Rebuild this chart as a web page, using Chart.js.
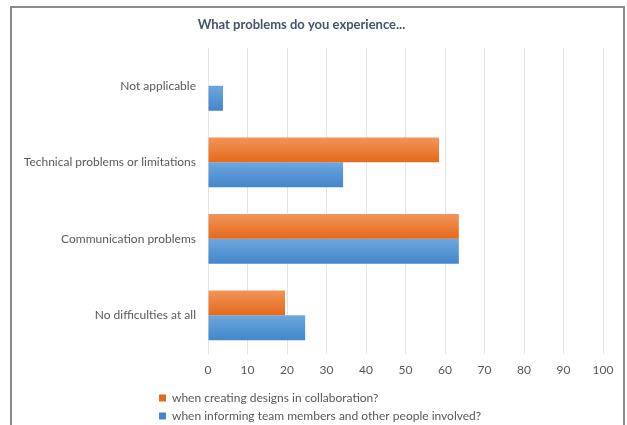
<!DOCTYPE html>
<html>
<head>
<meta charset="utf-8">
<script src="https://cdn.jsdelivr.net/npm/chart.js@4/dist/chart.umd.min.js"></script>
<style>
  html, body { margin: 0; padding: 0; background: #fff; overflow: hidden; }
  #wrap { position: relative; width: 627px; height: 425px; overflow: hidden; }
  #frame { position: absolute; left: 10px; top: 6px; width: 611px; height: 440px;
           border: 2px solid #8c8c8c; pointer-events: none; }
</style>
</head>
<body>
<div id="wrap">
  <canvas id="chartMasalah" width="627" height="432"></canvas>
  <div id="frame"></div>
</div>
<script>
const categories = [
  'Not applicable',
  'Technical problems or limitations',
  'Communication problems',
  'No difficulties at all'
];
const seriesNames = [
  'when creating designs in collaboration?',
  'when informing team members and other people involved?'
];
const designValues = [0, 58.5, 63.5, 19.5];
const informValues = [3.8, 34.2, 63.5, 24.6];
const xTicks = [0, 10, 20, 30, 40, 50, 60, 70, 80, 90, 100];

const CAT_PCT = 0.65;

// vertical gradient per bar, like the office look
function gradientBar(top, bottom) {
  return function(context) {
    const chart = context.chart;
    const yScale = chart.scales.y;
    if (!yScale || context.dataIndex === undefined) return bottom;
    const center = yScale.getPixelForValue(context.dataIndex);
    const band = (yScale.bottom - yScale.top) / categories.length;
    const half = band * CAT_PCT / 2;
    const y0 = context.datasetIndex === 0 ? center - half : center;
    const y1 = y0 + half;
    const g = chart.ctx.createLinearGradient(0, y0, 0, y1);
    g.addColorStop(0, top);
    g.addColorStop(1, bottom);
    return g;
  };
}

// legend sits under the labels, not under the plot
const geserLegend = {
  id: 'geserLegend',
  afterLayout(chart) {
    const l = chart.legend;
    const dx = chart.chartArea.left - 153;
    l.left -= dx;
    l.right -= dx;
  }
};

new Chart(document.getElementById('chartMasalah').getContext('2d'), {
  type: 'bar',
  data: {
    labels: categories,
    datasets: [{
      label: seriesNames[0],
      data: designValues,
      backgroundColor: gradientBar('#f39559', '#e4691a'),
      borderWidth: 0,
      categoryPercentage: CAT_PCT,
      barPercentage: 1.0
    }, {
      label: seriesNames[1],
      data: informValues,
      backgroundColor: gradientBar('#6ca7df', '#4386cb'),
      borderWidth: 0,
      categoryPercentage: CAT_PCT,
      barPercentage: 1.0
    }]
  },
  options: {
    indexAxis: 'y',
    responsive: false,
    animation: false,
    layout: { padding: { top: 17, right: 24, bottom: 0, left: 0 } },
    plugins: {
      title: {
        display: true,
        text: 'What problems do you experience...',
        color: '#44546a',
        font: { family: 'Lato', size: 13, weight: 'bold' },
        padding: { top: 0, bottom: 15 }
      },
      legend: {
        position: 'bottom',
        align: 'start',
        fullSize: false,
        labels: {
          color: '#595959',
          font: { family: 'Lato', size: 12 },
          boxWidth: 7,
          boxHeight: 7,
          padding: 6
        }
      },
      tooltip: { enabled: false }
    },
    scales: {
      x: {
        type: 'linear',
        min: 0,
        max: 100,
        afterBuildTicks: function(scale) {
          scale.ticks = xTicks.map(v => ({ value: v }));
        },
        ticks: {
          color: '#595959',
          font: { family: 'Lato', size: 12 },
          padding: 9
        },
        grid: { color: '#e4e4e4', drawTicks: false },
        border: { display: false }
      },
      y: {
        afterFit: function(scale) {
          scale.width = 208;
        },
        ticks: {
          color: '#595959',
          font: { family: 'Lato', size: 12 },
          padding: 12
        },
        grid: { display: false, drawTicks: false },
        border: { display: false }
      }
    }
  },
  plugins: [geserLegend]
});
</script>
</body>
</html>
